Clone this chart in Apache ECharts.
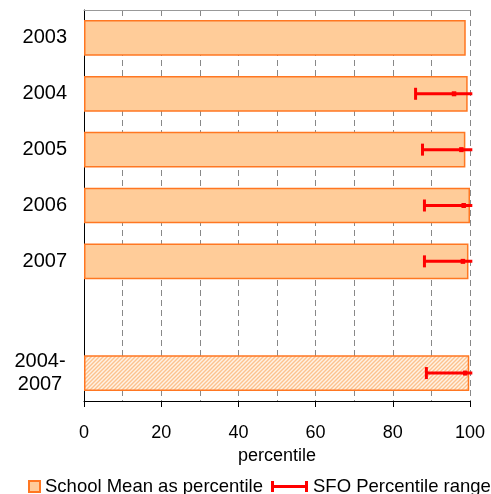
<!DOCTYPE html>
<html>
<head>
<meta charset="utf-8">
<script src="https://cdn.jsdelivr.net/npm/echarts@6/dist/echarts.min.js"></script>
<style>
html,body{margin:0;padding:0;background:#fff;}
#chart{width:491px;height:494px;}
</style>
</head>
<body>
<div id="chart"></div>
<script>
// ---- data ----
const categories = ['2003', '2004', '2005', '2006', '2007', '', '2004-\n2007'];
const schoolMean = [98.9, 99.4, 98.8, 100, 99.6, null, 99.8];
const sfoLow = [null, 85.9, 87.7, 88.2, 88.2, null, 88.7];
const sfoMid = [null, 95.8, 97.7, 98.3, 98.1, null, 98.7];
const sfoHigh = [null, 100.6, 100.6, 100.6, 100.6, null, 100.6];
const xTickLabels = [0, 20, 40, 60, 80, 100];
const hatchedCategory = '2004-\n2007';

// ---- styles ----
const FONT = '"Liberation Sans", Arial, sans-serif';
const FILL = '#FFCC99';
const EDGE = '#FF7722';
const RED = '#FF0000';

function hatch() {
  const c = document.createElement('canvas');
  c.width = 4; c.height = 4;
  const g = c.getContext('2d');
  g.fillStyle = '#FFF2E4';
  g.fillRect(0, 0, 4, 4);
  g.strokeStyle = '#FCC28E';
  g.lineWidth = 1.4;
  g.beginPath();
  g.moveTo(-1, 5); g.lineTo(5, -1);
  g.moveTo(-1, 1); g.lineTo(1, -1);
  g.moveTo(3, 5); g.lineTo(5, 3);
  g.stroke();
  return c;
}

const barData = schoolMean.map((v, i) => {
  if (categories[i] === hatchedCategory) {
    return { value: v, itemStyle: { color: { image: hatch(), repeat: 'repeat' } } };
  }
  return v;
});

const errData = [];
categories.forEach((c, i) => {
  if (sfoLow[i] != null) errData.push([i, sfoLow[i], sfoMid[i], sfoHigh[i]]);
});

const chart = echarts.init(document.getElementById('chart'), null, { renderer: 'canvas' });
chart.setOption({
  animation: false,
  textStyle: { fontFamily: FONT },
  grid: { left: 84, right: 21, top: 10, bottom: 93, containLabel: false },
  legend: [
    {
      data: [{ name: 'School Mean as percentile', icon: 'rect' }],
      left: 23, top: 472, itemWidth: 11, itemHeight: 11,
      textStyle: { fontSize: 18.5, color: '#000', fontFamily: FONT }
    },
    {
      data: [{ name: 'SFO Percentile range', icon: 'path://M0,0h3v11h-3z M3,4h31v3h-31z M34,0h3v11h-3z' }],
      left: 266, top: 472, itemWidth: 37, itemHeight: 11, width: 600,
      textStyle: { fontSize: 18.5, color: '#000', fontFamily: FONT }
    }
  ],
  xAxis: [
    {
      type: 'value', min: 0, max: 100, interval: 20, position: 'bottom',
      name: 'percentile', nameLocation: 'middle', nameGap: 44,
      nameTextStyle: { fontSize: 18, color: '#000', fontFamily: FONT },
      axisLine: { show: true, lineStyle: { color: '#000', width: 1 } },
      axisTick: { show: true, length: 6, lineStyle: { color: '#000' } },
      axisLabel: {
        fontSize: 18, color: '#000', margin: 23, fontFamily: FONT,
        formatter: v => (xTickLabels.indexOf(v) >= 0 ? String(v) : '')
      },
      splitLine: { show: true, lineStyle: { color: '#888', type: [6, 4], width: 1 } },
      minorTick: { show: false, splitNumber: 2 },
      minorSplitLine: { show: true, lineStyle: { color: '#888', type: [6, 4], width: 1 } }
    },
    {
      type: 'value', min: 0, max: 100, position: 'top',
      axisLine: { show: true, lineStyle: { color: '#999' } },
      axisTick: { show: false }, axisLabel: { show: false }, splitLine: { show: false }
    }
  ],
  yAxis: {
    type: 'category', data: categories, inverse: true,
    axisLine: { show: true, lineStyle: { color: '#000' } },
    axisTick: { show: false },
    axisLabel: {
      fontSize: 20, color: '#000', align: 'right', margin: 17, fontFamily: FONT,
      formatter: v => (v.indexOf('\n') >= 0 ? v.split('\n').map(s => '{c|' + s + '}').join('\n') : v),
      rich: { c: { fontSize: 20, width: 54, align: 'center', lineHeight: 23, fontFamily: FONT, color: '#000' } }
    },
    splitLine: {
      show: true,
      interval: (idx) => idx === categories.length - 1,
      lineStyle: { color: '#999', type: [6, 4] }
    }
  },
  series: [
    {
      name: 'School Mean as percentile', type: 'bar', data: barData,
      barCategoryGap: '36%',
      itemStyle: { color: FILL, borderColor: EDGE, borderWidth: 1.5 },
      z: 2
    },
    {
      name: 'SFO Percentile range', type: 'custom', data: errData,
      encode: { x: [1, 2, 3], y: 0 },
      clip: false, z: 5,
      itemStyle: { color: RED },
      renderItem: function (params, api) {
        const y = api.value(0);
        const pL = api.coord([api.value(1), y]);
        const pM = api.coord([api.value(2), y]);
        const pH = api.coord([api.value(3), y]);
        return {
          type: 'group',
          children: [
            { type: 'line', shape: { x1: pL[0], y1: pL[1], x2: pH[0], y2: pH[1] }, style: { stroke: RED, lineWidth: 3 } },
            { type: 'rect', shape: { x: pL[0] - 1.5, y: pL[1] - 6, width: 3, height: 12 }, style: { fill: RED } },
            { type: 'rect', shape: { x: pM[0] - 2, y: pM[1] - 2.5, width: 4.5, height: 5 }, style: { fill: RED } }
          ]
        };
      }
    }
  ]
});
</script>
</body>
</html>
